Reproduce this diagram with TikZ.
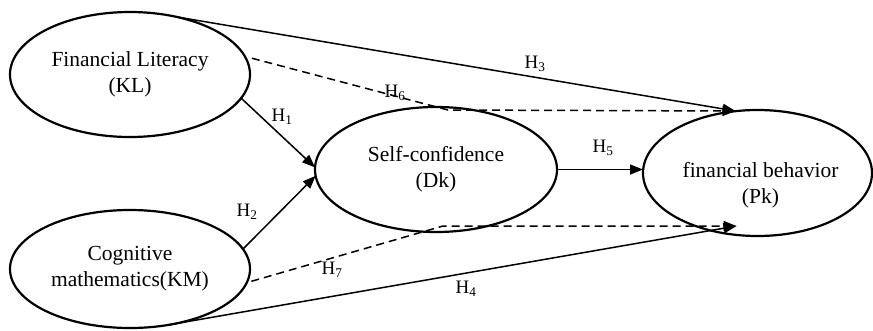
\documentclass[tikz,border=0pt]{standalone}
\usepackage{fontspec}
\setmainfont{Liberation Serif}
\usetikzlibrary{shapes.geometric,arrows.meta,positioning,calc}

\begin{document}
\begin{tikzpicture}[
    x=1pt, y=-1pt,
    construct/.style={ellipse, draw=black, line width=2.2pt, inner sep=0pt, outer sep=0pt, align=center, font=\fontsize{21.5}{26}\selectfont},
    ctext/.style={align=center, inner sep=0pt, font=\fontsize{21.5}{26}\selectfont},
    hyp/.style={-{Triangle[length=13pt,width=10pt]}, line width=1.5pt},
    hypdash/.style={hyp, dash pattern=on 8pt off 5pt},
    hlabel/.style={font=\fontsize{19}{20}\selectfont, inner sep=0pt}
]
\useasboundingbox (0,0) rectangle (873,330);

% Constructs
\node[construct, minimum width=240pt, minimum height=125pt] (KL) at (130,74.5) {Financial Literacy\\(KL)};
\node[construct, minimum width=240pt, minimum height=118pt] (KM) at (130,269) {Cognitive\\mathematics(KM)};
\node[construct, minimum width=242pt, minimum height=125pt] (Dk) at (436,169.5) {Self-confidence\\(Dk)};
\node[construct, minimum width=229pt, minimum height=126pt] (Pk) at (757.5,173) {};
\node[ctext] (Pktext) at ($(Pk.center)+(3,12)$) {financial behavior\\(Pk)};

% Bend and tip points
\coordinate (b6) at (448,110);
\coordinate (b7) at (443,226);
\coordinate (t6) at ($(Pk.center)+(-22,-62)$);
\coordinate (t7) at ($(Pk.center)+(-21,53)$);

% Hypotheses
\draw[hyp] (KL.-12) -- (Dk.179);
\draw[hyp] (KM.10) -- (Dk.183);
\draw[hyp] (KL.51) -- (t6);
\draw[hyp] (KM.-55) -- (t7);
\draw[hyp] (Dk.east) -- (Dk.east -| Pk.west);
\draw[hypdash] ([xshift=6pt]KL.8) -- (b6) -- (t6);
\draw[hypdash] ([xshift=4pt]KM.-6) -- (b7) -- (t7);

% Labels
\node[hlabel] (h1) at (282,117) {H\textsubscript{1}};
\node[hlabel] (h2) at (247,212) {H\textsubscript{2}};
\node[hlabel] (h3) at (535,64) {H\textsubscript{3}};
\node[hlabel] (h4) at (466,289) {H\textsubscript{4}};
\node[hlabel] (h5) at (603,148) {H\textsubscript{5}};
\node[hlabel] (h6) at (395,93) {H\textsubscript{6}};
\node[hlabel] (h7) at (332,270) {H\textsubscript{7}};

\end{tikzpicture}
\end{document}
